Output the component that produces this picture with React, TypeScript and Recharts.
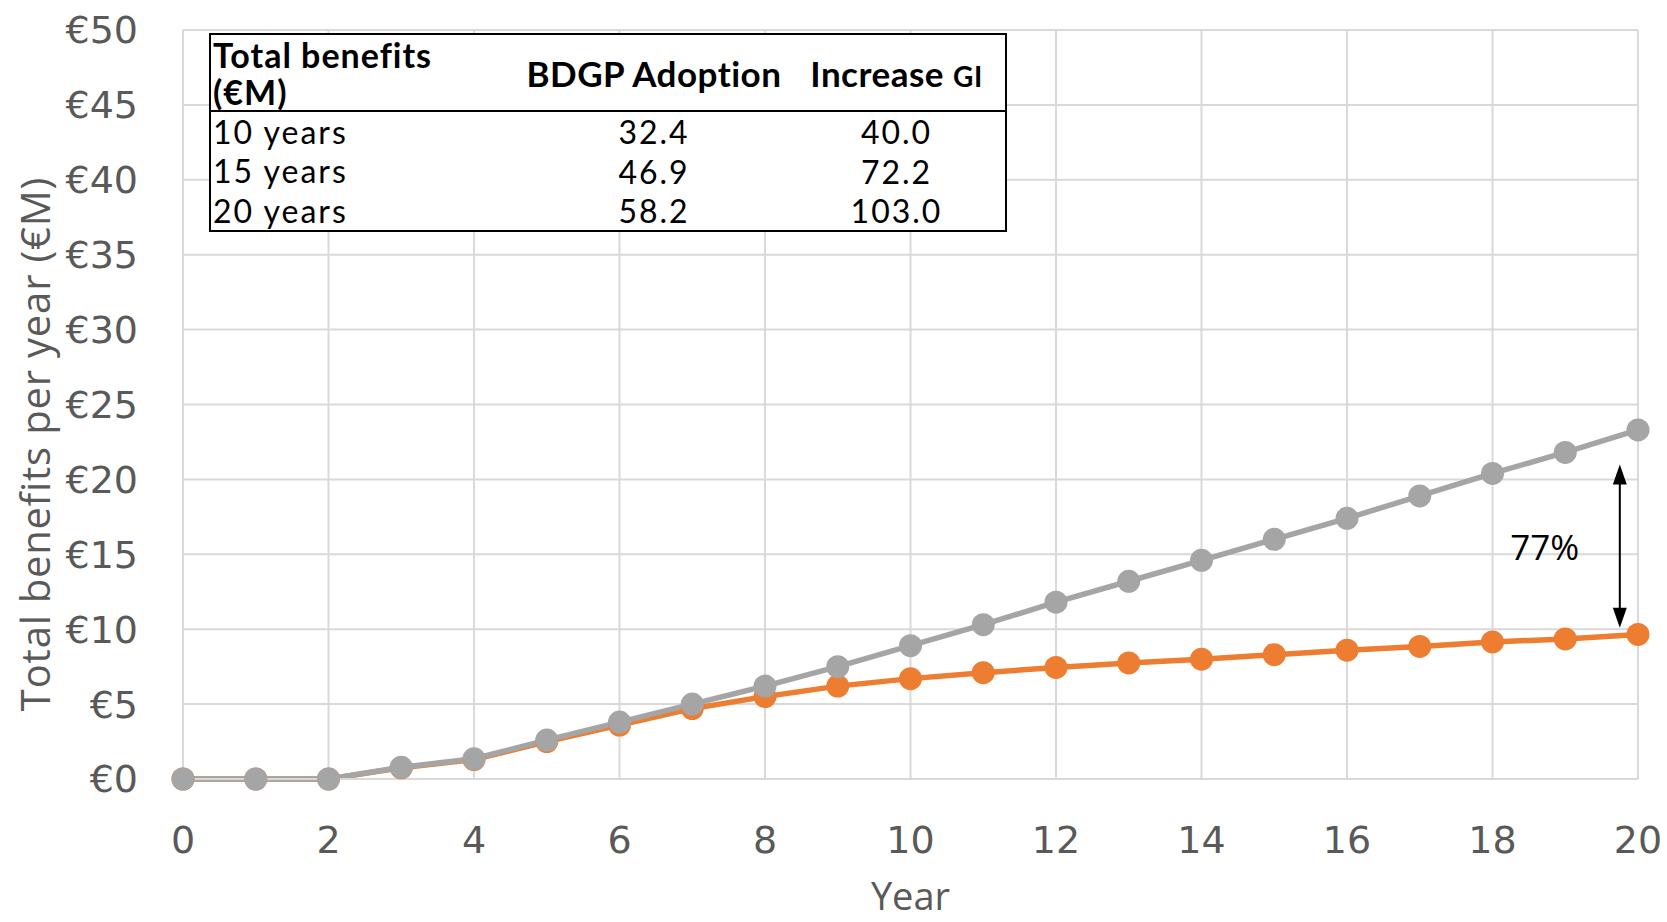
import React from 'react';
import { LineChart, Line, XAxis, YAxis, CartesianGrid, ReferenceLine } from 'recharts';

// year index
const years = [0, 1, 2, 3, 4, 5, 6, 7, 8, 9, 10, 11, 12, 13, 14, 15, 16, 17, 18, 19, 20];
// benefits per year (€M)
const bdgpAdoption = [0, 0, 0, 0.75, 1.3, 2.5, 3.6, 4.7, 5.5, 6.2, 6.7, 7.1, 7.45, 7.75, 8.0, 8.3, 8.6, 8.85, 9.15, 9.35, 9.65];
const increaseGI = [0, 0, 0, 0.78, 1.35, 2.6, 3.8, 5.0, 6.2, 7.5, 8.9, 10.3, 11.8, 13.2, 14.6, 16.0, 17.4, 18.9, 20.4, 21.8, 23.3];

const xTicks = [0, 2, 4, 6, 8, 10, 12, 14, 16, 18, 20];
const yTicks = [0, 5, 10, 15, 20, 25, 30, 35, 40, 45, 50];

// summary table
const horizons = ['10 years', '15 years', '20 years'];
const adoptionTotals = ['32.4', '46.9', '58.2'];
const increaseTotals = ['40.0', '72.2', '103.0'];

// gap arrow annotation
const gapLabel = '77%';
const gapYear = 19.75;
const gapFrom = 10.1;
const gapTo = 21.0;

const data = years.map((year, i) => ({
  year,
  adoption: bdgpAdoption[i],
  increase: increaseGI[i],
}));

const GRID = '#d9d9d9';
const TEXT = '#595959';

const GapArrow = (props: any) => {
  const { x1, y1, x2, y2 } = props;
  const top = Math.min(y1, y2);
  const bottom = Math.max(y1, y2);
  return (
    <g>
      <line x1={x1} y1={top + 18} x2={x2} y2={bottom - 18} stroke="#000" strokeWidth={2} />
      <polygon points={`${x1},${top} ${x1 - 7},${top + 20} ${x1 + 7},${top + 20}`} fill="#000" />
      <polygon points={`${x1},${bottom} ${x1 - 7},${bottom - 20} ${x1 + 7},${bottom - 20}`} fill="#000" />
      <text x={x1 - 75} y={(top + bottom) / 2} textAnchor="middle" dominantBaseline="central"
        fontSize={35} fontFamily="Open Sans, sans-serif" fill="#000">{gapLabel}</text>
    </g>
  );
};

const YTitle = () => (
  <text x={34} y={444} transform="rotate(-90, 34, 444)" textAnchor="middle" dominantBaseline="central"
    fill={TEXT} fontSize={40} letterSpacing={0.8} fontFamily="Open Sans, sans-serif">
    Total benefits per year (€M)
  </text>
);

const cellFont = { fontFamily: 'Lato, sans-serif', fontSize: 32, color: '#000', letterSpacing: 2 };
const headFont = { fontWeight: 700, fontSize: 35, letterSpacing: 0.5, whiteSpace: 'nowrap' as const };

const SummaryTable = () => (
  <table style={{
    position: 'absolute', left: 209, top: 33, width: 796, borderCollapse: 'collapse', tableLayout: 'fixed',
    border: '2px solid #000', background: '#fff', ...cellFont,
  }}>
    <colgroup>
      <col style={{ width: 266 }} />
      <col style={{ width: 356 }} />
      <col style={{ width: 174 }} />
    </colgroup>
    <thead>
      <tr style={{ height: 77, borderBottom: '2px solid #000' }}>
        <th style={{ ...headFont, fontSize: 34, letterSpacing: 1, textAlign: 'left', lineHeight: '37px', padding: '0 0 0 2px' }}>
          Total benefits<br />(€M)
        </th>
        <th style={{ ...headFont, padding: 0 }}>BDGP Adoption</th>
        <th style={{ ...headFont, padding: 0, textAlign: 'center' }}>
          <span style={{ position: 'relative', left: -22 }}>
            Increase <span style={{ fontSize: 28 }}>GI</span>
          </span>
        </th>
      </tr>
    </thead>
    <tbody>
      {horizons.map((h, i) => (
        <tr key={h} style={{ height: 40 }}>
          <td style={{ padding: '0 0 0 2px', lineHeight: '38px' }}>{h}</td>
          <td style={{ textAlign: 'center', padding: 0 }}>{adoptionTotals[i]}</td>
          <td style={{ textAlign: 'center', padding: '0 44px 0 0' }}>{increaseTotals[i]}</td>
        </tr>
      ))}
    </tbody>
  </table>
);

export default function App() {
  return (
    <div style={{ position: 'absolute', left: 0, top: 0, width: 1667, height: 922, background: '#fff' }}>
      <LineChart width={1667} height={922} data={data} margin={{ top: 30, right: 29, bottom: 43, left: 0 }}>
        <CartesianGrid stroke={GRID} strokeWidth={2} />
        <XAxis
          dataKey="year"
          type="number"
          domain={[0, 20]}
          ticks={xTicks}
          tickLine={false}
          axisLine={{ stroke: GRID, strokeWidth: 2 }}
          height={100}
          tickMargin={41}
          tick={{ fill: TEXT, fontSize: 38, fontFamily: 'DejaVu Sans, sans-serif' }}
          label={{ value: 'Year', position: 'bottom', offset: 4, fill: TEXT, fontSize: 38, fontFamily: 'Open Sans, sans-serif' }}
        />
        <YAxis
          type="number"
          domain={[0, 50]}
          ticks={yTicks}
          tickLine={false}
          axisLine={{ stroke: GRID, strokeWidth: 2 }}
          width={183}
          tickMargin={39}
          tickFormatter={(v: number) => `€${v}`}
          tick={{ fill: TEXT, fontSize: 38, fontFamily: 'DejaVu Sans, sans-serif' }}
          label={{ content: () => <YTitle /> }}
        />
        <Line dataKey="adoption" stroke="#ED7D31" strokeWidth={5.5}
          dot={{ r: 11.5, fill: '#ED7D31', stroke: 'none' }} isAnimationActive={false} />
        <Line dataKey="increase" stroke="#A5A5A5" strokeWidth={5.5}
          dot={{ r: 11.5, fill: '#A5A5A5', stroke: 'none' }} isAnimationActive={false} />
        <ReferenceLine segment={[{ x: gapYear, y: gapFrom }, { x: gapYear, y: gapTo }]} shape={GapArrow} />
      </LineChart>
      <SummaryTable />
    </div>
  );
}
